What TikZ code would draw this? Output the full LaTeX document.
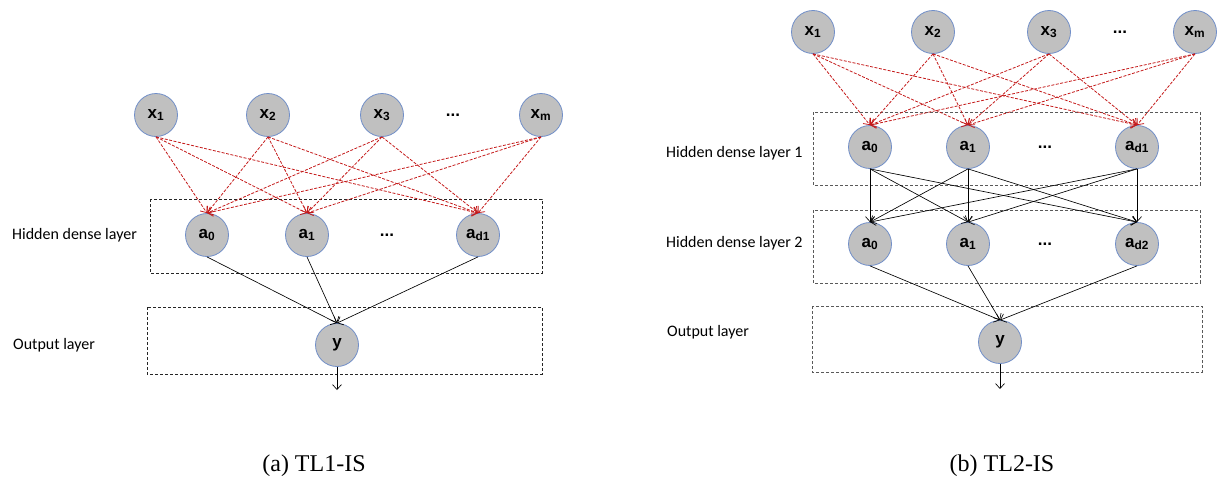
\documentclass[tikz,border=0pt]{standalone}
\usepackage{fontspec}
\setmainfont{Liberation Serif}
\newfontfamily\layerfont{Carlito}
\newfontfamily\unitfont{Liberation Sans}
\usetikzlibrary{arrows.meta,positioning}
\definecolor{unitfill}{RGB}{192,192,192}
\definecolor{unitedge}{RGB}{112,142,200}
\definecolor{wred}{RGB}{196,26,26}
\newcommand\nsub[2]{#1\textsubscript{#2}}
\tikzstyle{unit}=[circle,draw=unitedge,fill=unitfill,line width=0.8pt,minimum size=43pt,inner sep=0pt,font=\unitfont\bfseries\fontsize{17}{17}\selectfont]
\tikzstyle{gap}=[font=\unitfont\bfseries\fontsize{17}{17}\selectfont]
\tikzstyle{layer}=[draw=black!85,dash pattern=on 3pt off 2pt,line width=0.7pt]
\tikzstyle{tag}=[anchor=west,inner sep=0pt,font=\layerfont\fontsize{16}{16}\selectfont]
\tikzstyle{caption}=[font=\fontsize{24}{24}\selectfont]
\tikzstyle{wire}=[draw,line width=0.65pt,-{Straight Barb[length=5pt,width=9pt]}]
\tikzstyle{rwire}=[wire,draw=wred,line width=0.8pt,dash pattern=on 3pt off 1.5pt]
\tikzstyle{wires}=[every edge/.style=wire]
\tikzstyle{rwires}=[every edge/.style=rwire]

\begin{document}
\begin{tikzpicture}[x=1pt,y=-1pt]
  \useasboundingbox (0,0) rectangle (1221,482);

  % (a) one hidden layer
  \draw[layer] (150,199) rectangle (542,273);
  \draw[layer] (147,307) rectangle (542,374);
  \node[tag] (lhid) at (12,235) {Hidden dense layer};
  \node[tag] (lout) at (13,345) {Output layer};

  \node[unit] (lx1) at (156,115) {\nsub{x}{1}};
  \node[unit] (lx2) [node distance=112pt,right of=lx1] {\nsub{x}{2}};
  \node[unit] (lx3) [node distance=114pt,right of=lx2] {\nsub{x}{3}};
  \node[gap]  (lxd) [node distance=71pt,right of=lx3]  {...};
  \node[unit] (lxm) [node distance=88pt,right of=lxd]  {\nsub{x}{m}};

  \node[unit] (la0) at (207,235) {\nsub{a}{0}};
  \node[unit] (la1) [node distance=100pt,right of=la0] {\nsub{a}{1}};
  \node[gap]  (lad) [node distance=80pt,right of=la1]  {...};
  \node[unit] (lan) [node distance=91pt,right of=lad]  {\nsub{a}{d1}};

  \node[unit] (ly) at (337,345) {y};
  \coordinate (lyend) at (337,390);

  \path[rwires] (lx1.south) edge (la0.north) edge (la1.north) edge (lan.north)
    (lx2.south) edge (la0.north) edge (la1.north) edge (lan.north)
    (lx3.south) edge (la0.north) edge (la1.north) edge (lan.north)
    (lxm.south) edge (la0.north) edge (la1.north) edge (lan.north);
  \path[wires] (la0.south) edge (ly.north)
    (la1.south) edge (ly.north)
    (lan.south) edge (ly.north)
    (ly.south) edge (lyend);

  % (b) two hidden layers
  \draw[layer,draw=black!65] (813,112) rectangle (1200,185);
  \draw[layer,draw=black!65] (813,210) rectangle (1200,283);
  \draw[layer,draw=black!65] (812,306) rectangle (1202,372);
  \node[tag] (rhid1) at (666,153) {Hidden dense layer 1};
  \node[tag] (rhid2) at (666,243) {Hidden dense layer 2};
  \node[tag] (rout)  at (667,332) {Output layer};

  \node[unit] (rx1) at (813,32) {\nsub{x}{1}};
  \node[unit] (rx2) [node distance=120pt,right of=rx1] {\nsub{x}{2}};
  \node[unit] (rx3) [node distance=116pt,right of=rx2] {\nsub{x}{3}};
  \node[gap]  (rxd) [node distance=71pt,right of=rx3]  {...};
  \node[unit] (rxm) [node distance=75pt,right of=rxd]  {\nsub{x}{m}};

  \node[unit] (ra0) at (870,147) {\nsub{a}{0}};
  \node[unit] (ra1) [node distance=98pt,right of=ra0] {\nsub{a}{1}};
  \node[gap]  (rad) [node distance=77pt,right of=ra1] {...};
  \node[unit] (ran) [node distance=92pt,right of=rad] {\nsub{a}{d1}};

  \node[unit] (rb0) at (870,244) {\nsub{a}{0}};
  \node[unit] (rb1) [node distance=98pt,right of=rb0] {\nsub{a}{1}};
  \node[gap]  (rbd) [node distance=77pt,right of=rb1] {...};
  \node[unit] (rbn) [node distance=92pt,right of=rbd] {\nsub{a}{d2}};

  \node[unit] (ry) at (1000,342) {y};
  \coordinate (ryend) at (1000,389);

  \path[rwires] (rx1.south) edge (ra0.north) edge (ra1.north) edge (ran.north)
    (rx2.south) edge (ra0.north) edge (ra1.north) edge (ran.north)
    (rx3.south) edge (ra0.north) edge (ra1.north) edge (ran.north)
    (rxm.south) edge (ra0.north) edge (ra1.north) edge (ran.north);
  \path[wires] (ra0.south) edge (rb0.north) edge (rb1.north) edge (rbn.north)
    (ra1.south) edge (rb0.north) edge (rb1.north) edge (rbn.north)
    (ran.south) edge (rb0.north) edge (rb1.north) edge (rbn.north);
  \path[wires] (rb0.south) edge (ry.north)
    (rb1.south) edge (ry.north)
    (rbn.south) edge (ry.north)
    (ry.south) edge (ryend);

  \node[caption] (capa) at (314,466) {(a) TL1-IS};
  \node[caption] (capb) at (1002,466) {(b) TL2-IS};
\end{tikzpicture}
\end{document}
